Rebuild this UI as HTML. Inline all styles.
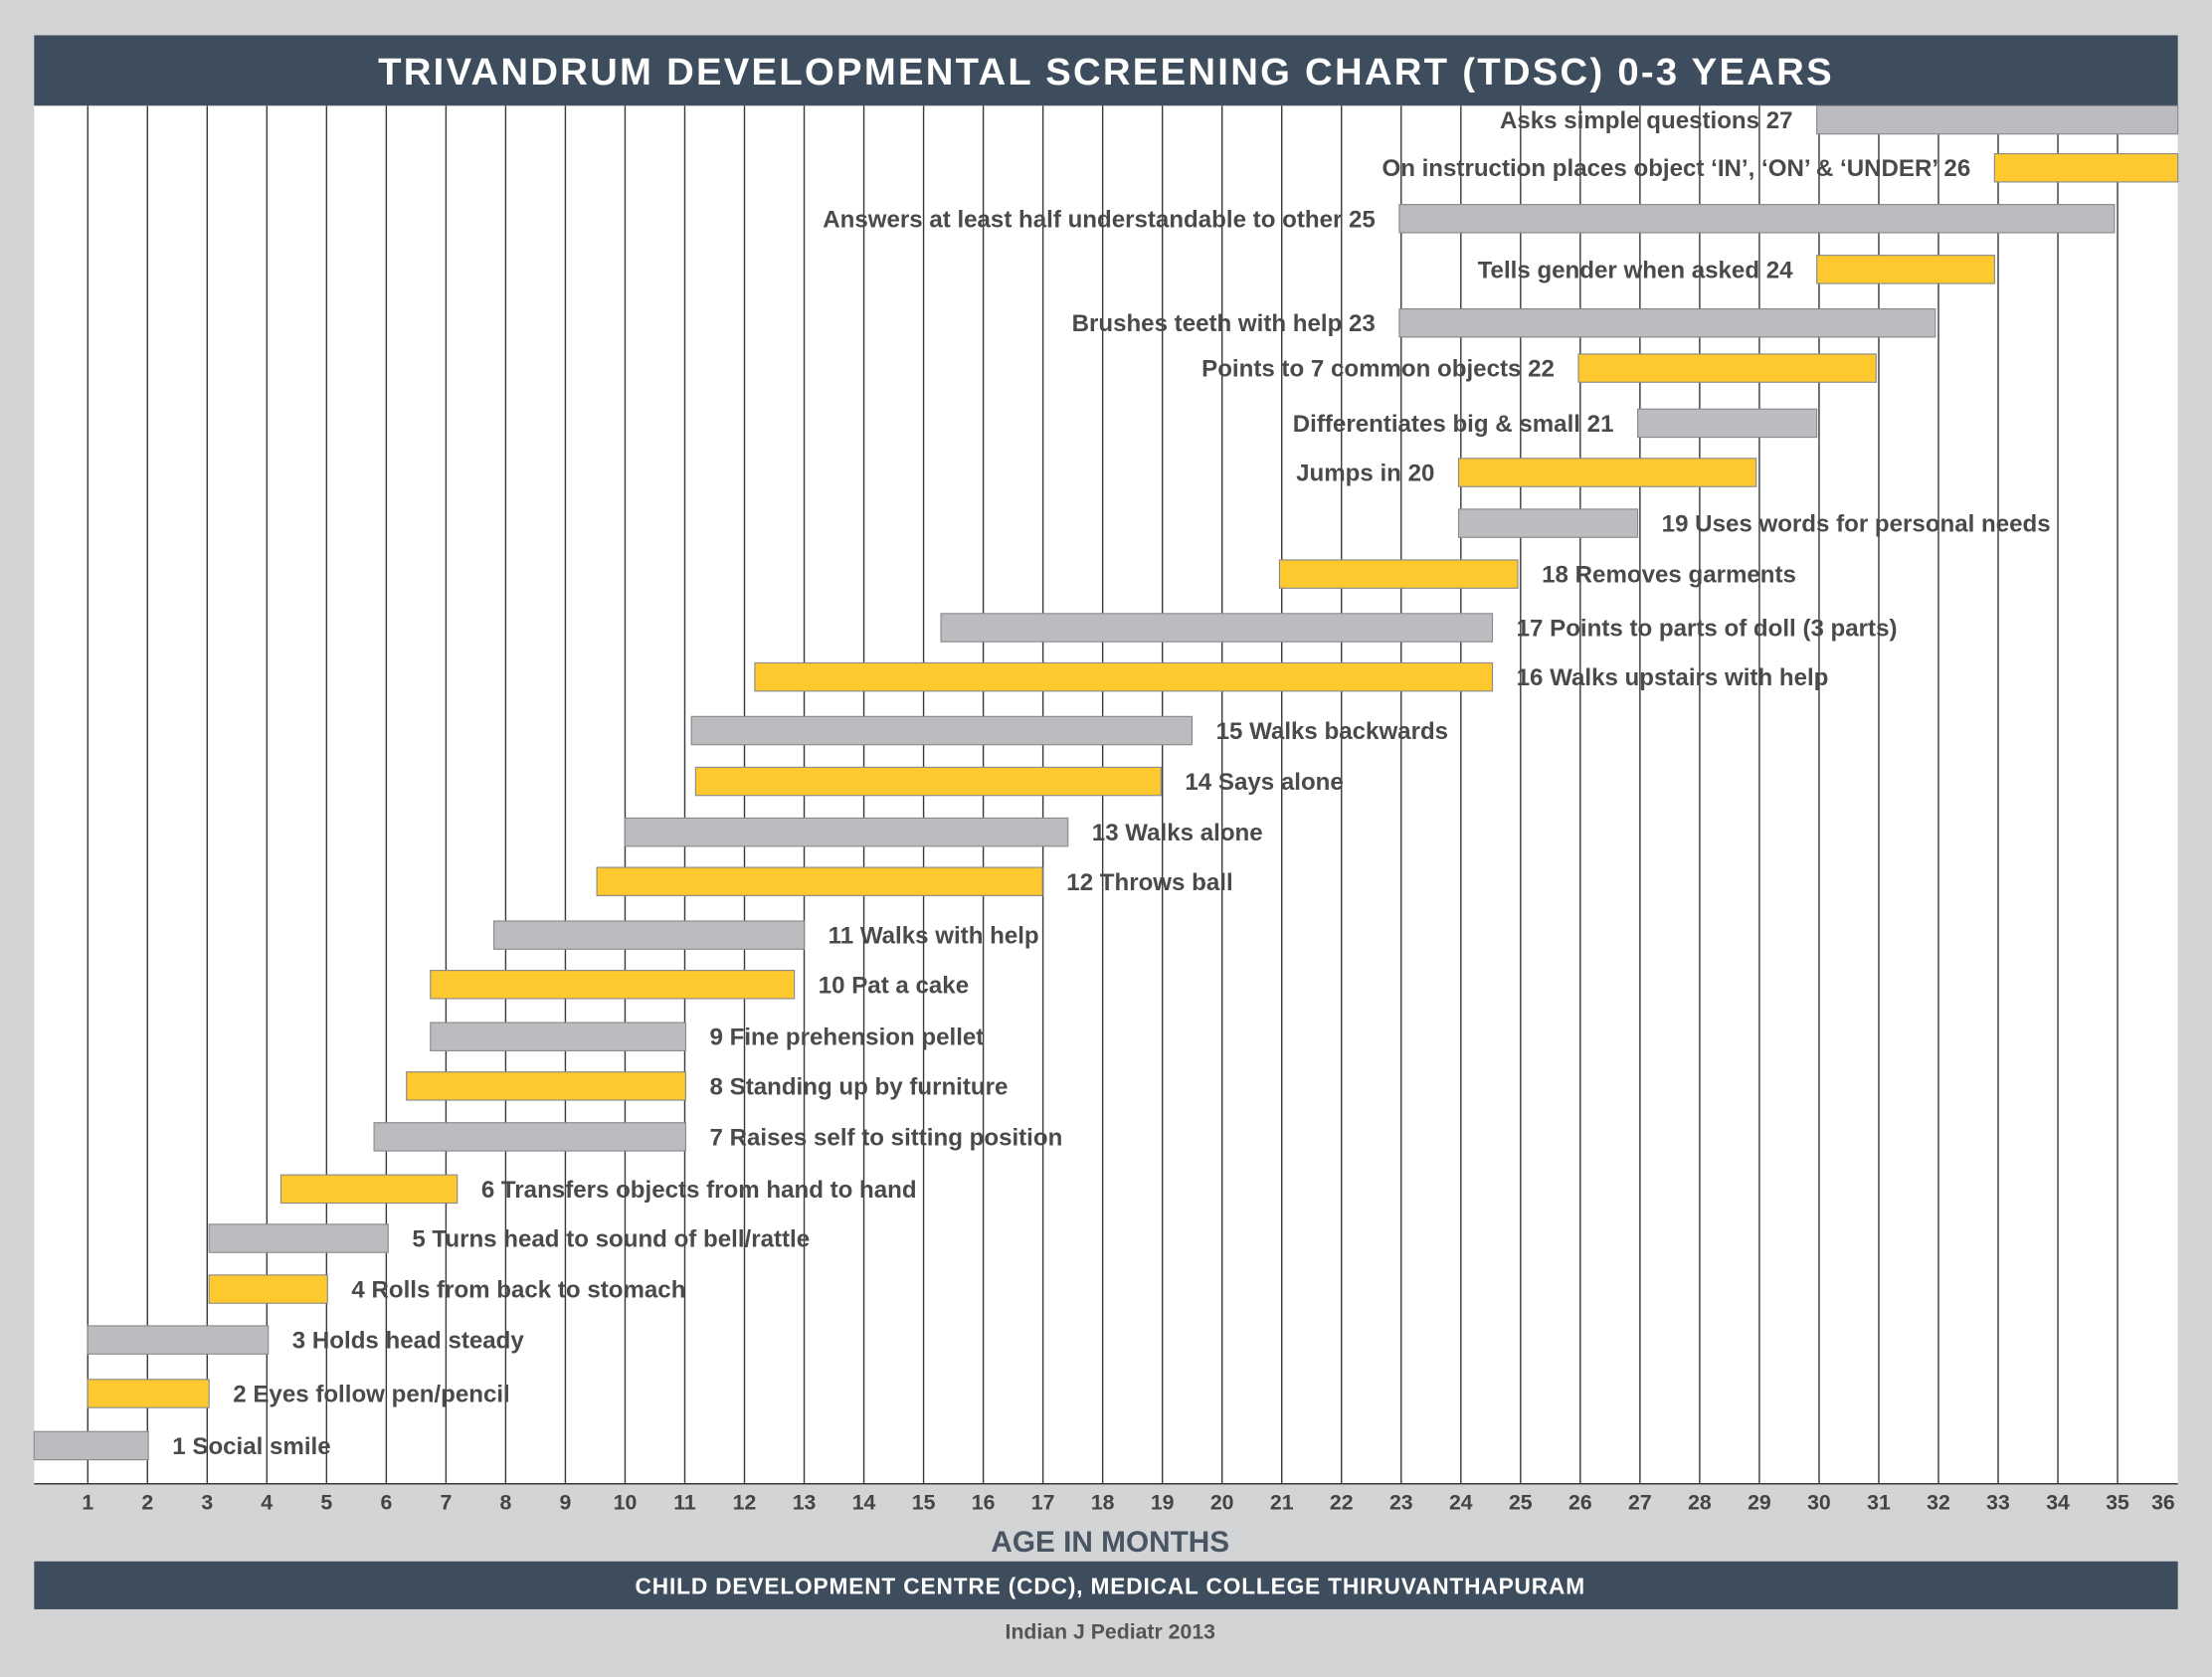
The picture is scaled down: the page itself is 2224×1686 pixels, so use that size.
<!DOCTYPE html>
<html><head><meta charset="utf-8"><style>
html,body{margin:0;padding:0;background:#d3d4d6;}
svg{display:block}
text{font-family:"Liberation Sans",sans-serif;}
</style></head><body>
<svg width="2224" height="1686" viewBox="0 0 1568 1189" xmlns="http://www.w3.org/2000/svg">
<rect x="0" y="0" width="1568" height="1189" fill="#d3d4d6"/>
<rect x="24" y="25" width="1520" height="50" fill="#3e4d5e"/>
<text x="784" y="60" text-anchor="middle" fill="#fff" font-size="27" font-weight="bold" letter-spacing="1.6">TRIVANDRUM DEVELOPMENTAL SCREENING CHART (TDSC) 0-3 YEARS</text>
<rect x="24" y="75" width="1520" height="977" fill="#fff"/>
<g id="grid" stroke="#3a3a3a" stroke-width="1"></g>
<g id="bars"></g>
<g id="ticks" fill="#444" font-size="15" font-weight="bold" text-anchor="middle"></g>
<line x1="24" y1="1052" x2="1544" y2="1052" stroke="#3a3a3a"/>
<text x="787" y="1100" text-anchor="middle" fill="#4a5563" font-size="21" font-weight="bold">AGE IN MONTHS</text>
<rect x="24" y="1107" width="1520" height="34" fill="#3e4d5e"/>
<text x="787" y="1130" text-anchor="middle" fill="#fff" font-size="16" font-weight="bold" letter-spacing="0.6">CHILD DEVELOPMENT CENTRE (CDC), MEDICAL COLLEGE THIRUVANTHAPURAM</text>
<text x="787" y="1162" text-anchor="middle" fill="#555" font-size="15" font-weight="bold">Indian J Pediatr 2013</text>
<script>
var ns="http://www.w3.org/2000/svg";
function X(m){return 19.7+42.33*m;}
var g=document.getElementById("grid"),t=document.getElementById("ticks"),b=document.getElementById("bars");
for(var m=1;m<=35;m++){var l=document.createElementNS(ns,"line");l.setAttribute("x1",X(m));l.setAttribute("x2",X(m));l.setAttribute("y1",75);l.setAttribute("y2",1052);g.appendChild(l);}
for(var m=1;m<=36;m++){var e=document.createElementNS(ns,"text");e.setAttribute("x",X(m)-(m==36?10:0));e.setAttribute("y",1070);e.textContent=m;t.appendChild(e);}
var rows=[
[1025,24,105,"1 Social smile",0],
[988,62,148,"2 Eyes follow pen/pencil",1],
[950,62,190,"3 Holds head steady",0],
[914,148,232,"4 Rolls from back to stomach",1],
[878,148,275,"5 Turns head to sound of bell/rattle",0],
[843,199,324,"6 Transfers objects from hand to hand",1],
[806,265,486,"7 Raises self to sitting position",0],
[770,288,486,"8 Standing up by furniture",1],
[735,305,486,"9 Fine prehension pellet",0],
[698,305,563,"10 Pat a cake",1],
[663,350,570,"11 Walks with help",0],
[625,423,739,"12 Throws ball",1],
[590,443,757,"13 Walks alone",0],
[554,493,823,"14 Says alone",1],
[518,490,845,"15 Walks backwards",0],
[480,535,1058,"16 Walks upstairs with help",1],
[445,667,1058,"17 Points to parts of doll (3 parts)",0],
[407,907,1076,"18 Removes garments",1],
[371,1034,1161,"19 Uses words for personal needs",0],
[335,1034,1245,"Jumps in 20",1],
[300,1161,1288,"Differentiates big & small 21",0],
[261,1119,1330,"Points to 7 common objects 22",1],
[229,992,1372,"Brushes teeth with help 23",0],
[191,1288,1414,"Tells gender when asked 24",1],
[155,992,1499,"Answers at least half understandable to other 25",0],
[119,1414,1544,"On instruction places object \u2018IN\u2019, \u2018ON\u2019 & \u2018UNDER\u2019 26",1],
[85,1288,1544,"Asks simple questions 27",0]];
rows.forEach(function(r,i){
 var y=r[0];var rc=document.createElementNS(ns,"rect");
 var top=(i==26)?75:y-10;var h=20;
 rc.setAttribute("x",r[1]);rc.setAttribute("y",top);rc.setAttribute("width",r[2]-r[1]);rc.setAttribute("height",h);
 rc.setAttribute("fill",r[4]?"#fdc92f":"#bcbcc0");rc.setAttribute("stroke","#8a8a8a");rc.setAttribute("stroke-width","0.8");
 b.appendChild(rc);
 var tx=document.createElementNS(ns,"text");
 if(i<19){tx.setAttribute("x",r[2]+17);}else{tx.setAttribute("x",r[1]-17);tx.setAttribute("text-anchor","end");}
 tx.setAttribute("y",y+6);tx.setAttribute("font-size","17");tx.setAttribute("font-weight","bold");tx.setAttribute("fill","#4a4a4a");
 tx.textContent=r[3];b.appendChild(tx);
});
</script>
</svg>
</body></html>
